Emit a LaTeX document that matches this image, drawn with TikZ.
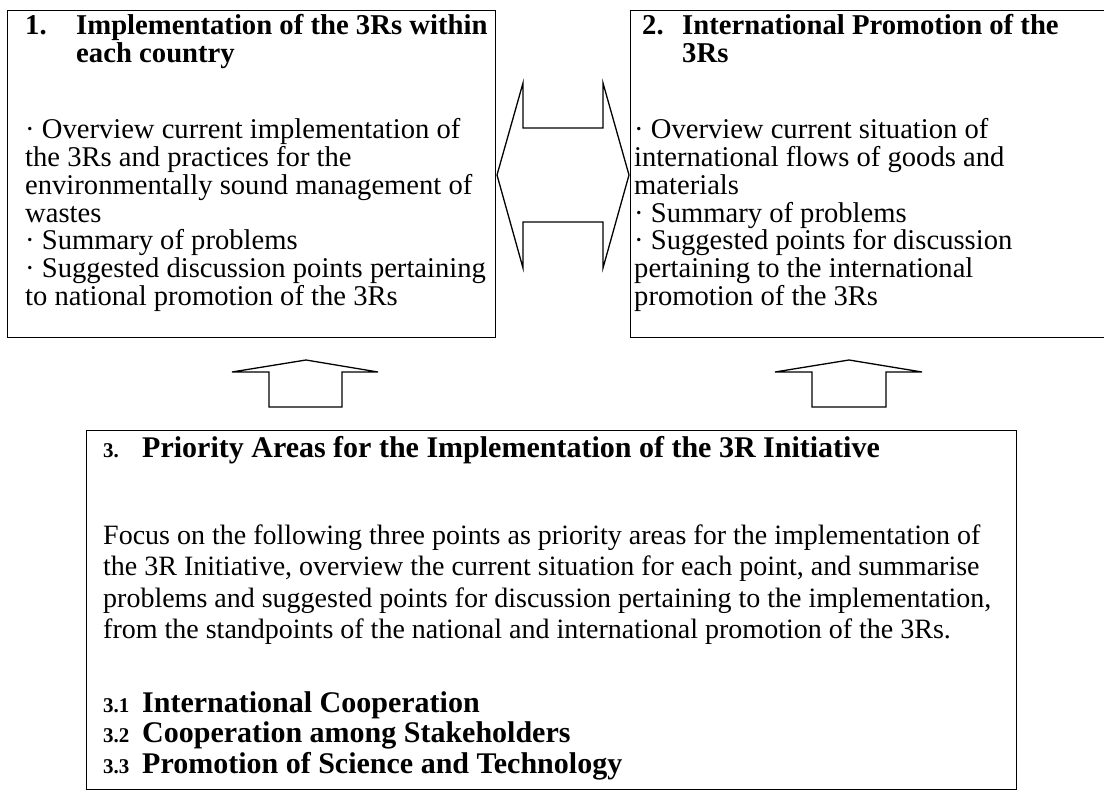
\documentclass[tikz,border=0pt]{standalone}
\usepackage{fontspec}
\setmainfont{Liberation Serif}
\newcommand{\bodyf}{\fontsize{28.6}{28.6}\selectfont}
\newcommand{\paraf}{\fontsize{28}{28}\selectfont}
\newcommand{\ttlf}{\fontsize{28.7}{28.7}\selectfont\bfseries}
\newcommand{\bigttlf}{\fontsize{30}{30}\selectfont\bfseries}
\newcommand{\smallnumf}{\fontsize{21}{21}\selectfont\bfseries}
\begin{document}
\begin{tikzpicture}[x=1pt,y=-1pt,
  box/.style={draw, line width=1.4pt, fill=white, inner sep=0pt, anchor=north west},
  txt/.style={anchor=base west, inner sep=0pt},
  blockarrow/.style={draw, line width=1.3pt, fill=white, line join=miter}]
\useasboundingbox (0,0) rectangle (1104,791);
\fill[white] (0,0) rectangle (1104,791);

% double block arrow between boxes 1 and 2
\draw[blockarrow] (497,175) -- (523,83) -- (523,128) -- (603,128) -- (603,83) -- (629,175)
  -- (603,268) -- (603,222) -- (523,222) -- (523,268) -- cycle;

% boxes
\node[box, minimum width=488pt, minimum height=327pt] (b1) at (7,10) {};
\node[box, minimum width=490pt, minimum height=327pt] (b2) at (630,10) {};
\node[box, minimum width=930pt, minimum height=359pt] (b3) at (86,430) {};

% up block arrows
\draw[blockarrow] (232,372) -- (306,360) -- (378,372) -- (342,372) -- (342,407) -- (269,407) -- (269,372) -- cycle;
\draw[blockarrow] (775,372) -- (849,360) -- (922,372) -- (886,372) -- (886,407) -- (812,407) -- (812,372) -- cycle;

% box 1 text
\node[txt, font=\ttlf] (n1) at (25,35) {1.};
\node[txt, font=\ttlf] (t1a) at (76,35) {Implementation of the 3Rs within};
\node[txt, font=\ttlf] (t1b) at (76,63) {each country};
\foreach \t [count=\i from 0] in {{· Overview current implementation of},{the 3Rs and practices for the},{environmentally sound management of},{wastes},{· Summary of problems},{· Suggested discussion points pertaining},{to national promotion of the 3Rs}}
  \node[txt, font=\bodyf, name=p1\i] at (25,139+27.7*\i) {\t};

% box 2 text
\node[txt, font=\ttlf] (n2) at (642,35) {2.};
\node[txt, font=\ttlf] (t2a) at (682,35) {International Promotion of the};
\node[txt, font=\ttlf] (t2b) at (682,63) {3Rs};
\foreach \t [count=\i from 0] in {{· Overview current situation of},{international flows of goods and},{materials},{· Summary of problems},{· Suggested points for discussion},{pertaining to the international},{promotion of the 3Rs}}
  \node[txt, font=\bodyf, name=p2\i] at (634,139+27.7*\i) {\t};

% box 3 text
\node[txt, font=\smallnumf] (n3) at (103,458) {3.};
\node[txt, font=\bigttlf] (t3) at (142,458) {Priority Areas for the Implementation of the 3R Initiative};
\foreach \t [count=\i from 0] in {{Focus on the following three points as priority areas for the implementation of},{the 3R Initiative, overview the current situation for each point, and summarise},{problems and suggested points for discussion pertaining to the implementation,},{from the standpoints of the national and international promotion of the 3Rs.}}
  \node[txt, font=\paraf, name=q\i] at (103,545+31*\i) {\t};
\foreach \n/\t [count=\i from 0] in {3.1/International Cooperation,3.2/Cooperation among Stakeholders,3.3/Promotion of Science and Technology}{
  \node[txt, font=\smallnumf, name=sn\i] at (103,712+30.5*\i) {\n};
  \node[txt, font=\bigttlf, name=st\i] at (142,712+30.5*\i) {\t};
}
\end{tikzpicture}
\end{document}
